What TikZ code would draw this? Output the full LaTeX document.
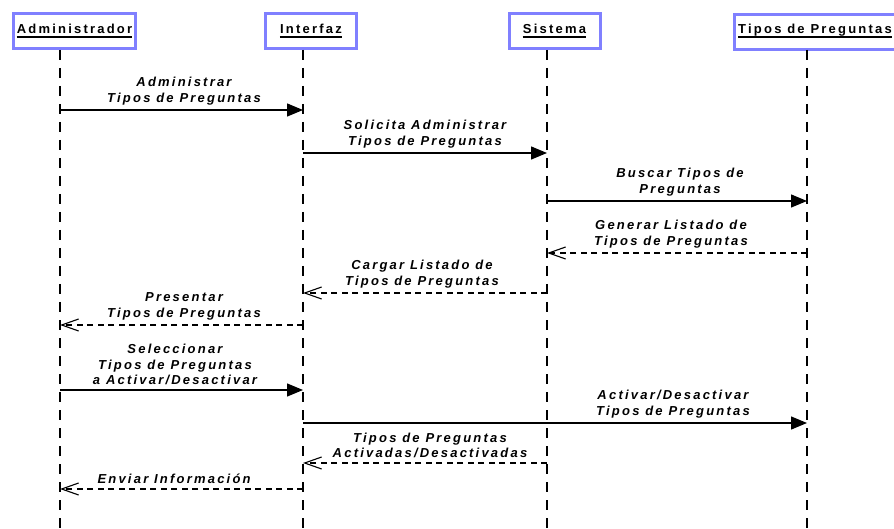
\documentclass[tikz,border=0pt]{standalone}
\usepackage{fontspec}
\setmainfont{Liberation Sans}[LetterSpace=17]
\usetikzlibrary{arrows.meta}
\usetikzlibrary{fit}

\definecolor{actorblue}{RGB}{128,128,255}

\tikzset{
	actorname/.style={font=\fontsize{13}{15}\selectfont\bfseries, inner sep=0pt, anchor=base},
	actorbox/.style={draw=actorblue, line width=3pt, inner xsep=3.5pt, minimum width=91pt, minimum height=35pt, yshift=-1.5pt},
	nameline/.style={line width=1.8pt},
	lifeline/.style={line width=1.2pt, dash pattern=on 10pt off 8pt},
	callmsg/.style={line width=1.4pt, -{Triangle[length=16pt, width=13pt]}},
	replymsg/.style={line width=1.1pt, dash pattern=on 6pt off 4.5pt, -{Straight Barb[length=17pt, width=12pt]}},
	msglabel/.style={font=\fontsize{13}{15.3}\selectfont\bfseries\itshape, align=center, anchor=south, inner sep=0pt},
}

\begin{document}
\begin{tikzpicture}[x=1pt, y=-1pt]
		\useasboundingbox (0,0) rectangle (894,529);
		\foreach \n/\cx/\lx/\txt in{
				adm/74.5/60/Administrador,
				int/311/303/Interfaz,
				sis/554.5/547/Sistema,
				tip/815/807/Tipos de Preguntas
		}{
		\node[actorname] (\n N) at (\cx,34) {\txt};
		\node[actorbox, fit=(\n N)] (\n B) {};
		\draw[nameline] ([yshift=-3.2pt]\n N.base west) -- ([yshift=-3.2pt]\n N.base east);
		\coordinate (\n top) at (\lx,50);
		\coordinate (\n bot) at (\lx,529);
		\draw[lifeline] (\n top) -- (\n bot);
		}
		\foreach \y/\a/\b/\kind/\lx/\txt [count=\i] in{
				110/adm/int/callmsg/184/{Administrar\\Tipos de Preguntas},
				153/int/sis/callmsg/425/{Solicita Administrar\\Tipos de Preguntas},
				201/sis/tip/callmsg/680/{Buscar Tipos de\\Preguntas},
				253/tip/sis/replymsg/671/{Generar Listado de\\Tipos de Preguntas},
				293/sis/int/replymsg/422/{Cargar Listado de\\Tipos de Preguntas},
				325/int/adm/replymsg/184/{Presentar\\Tipos de Preguntas},
				390/adm/int/callmsg/175/{Seleccionar\\Tipos de Preguntas\\a Activar/Desactivar},
				423/int/tip/callmsg/673/{Activar/Desactivar\\Tipos de Preguntas},
				463/sis/int/replymsg/430/{Tipos de Preguntas\\Activadas/Desactivadas},
				489/int/adm/replymsg/177/{Enviar Información}
		}{
		\draw[\kind] (\a top |- 0,\y) -- (\b top |- 0,\y);
		\node[msglabel] (m\i) at (\lx,\y-5) {\txt};
		}
\end{tikzpicture}
\end{document}
